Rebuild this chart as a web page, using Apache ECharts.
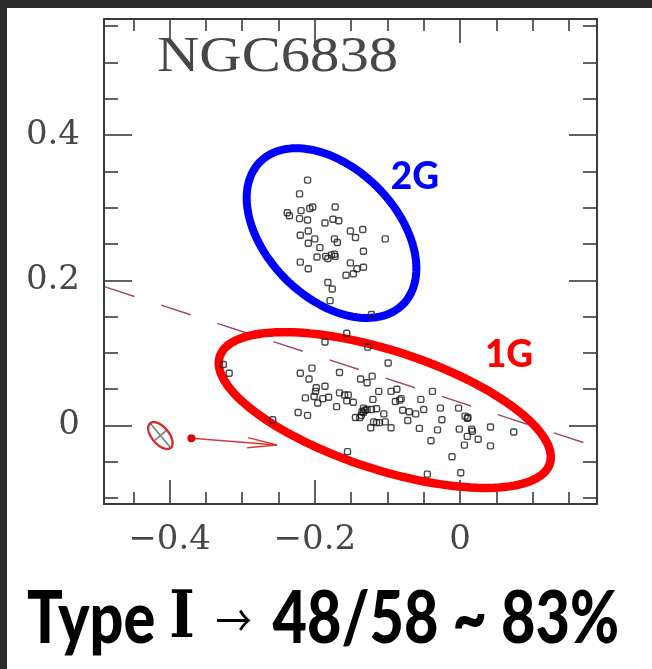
<!DOCTYPE html>
<html>
<head>
<meta charset="utf-8">
<script src="https://cdn.jsdelivr.net/npm/echarts@6.0.0/dist/echarts.min.js"></script>
<style>
html,body{margin:0;padding:0;background:#fff;}
#chart{width:652px;height:669px;}
</style>
</head>
<body>
<div id="chart"></div>
<script>
// ---- data ----
const xMajorTicks = [-0.4, -0.2, 0];
const xMinorTicks = [-0.45, -0.35, -0.3, -0.25, -0.15, -0.1, -0.05, 0.05, 0.1, 0.15];
const yMajorTicks = [0, 0.2, 0.4];
const yMinorTicks = [-0.1, -0.05, 0.05, 0.1, 0.15, 0.25, 0.3, 0.35, 0.45, 0.5, 0.55];

const group2G = [[-0.210,0.338],[-0.221,0.319],[-0.238,0.293],[-0.235,0.289],[-0.219,0.296],[-0.207,0.299],[-0.203,0.301],[-0.172,0.301],[-0.221,0.285],[-0.210,0.283],[-0.186,0.279],[-0.175,0.284],[-0.167,0.282],[-0.151,0.268],[-0.134,0.270],[-0.220,0.262],[-0.209,0.268],[-0.200,0.257],[-0.209,0.251],[-0.173,0.257],[-0.169,0.252],[-0.144,0.259],[-0.103,0.257],[-0.193,0.245],[-0.133,0.240],[-0.197,0.232],[-0.185,0.233],[-0.182,0.230],[-0.177,0.235],[-0.173,0.236],[-0.172,0.233],[-0.220,0.225],[-0.209,0.216],[-0.151,0.224],[-0.133,0.218],[-0.142,0.216],[-0.157,0.207],[-0.147,0.209],[-0.182,0.197],[-0.176,0.188],[-0.179,0.172],[-0.122,0.153]];

const group1G = [[-0.156,0.127],[-0.186,0.115],[-0.127,0.108],[-0.326,0.084],[-0.318,0.072],[-0.099,0.086],[-0.220,0.072],[-0.204,0.079],[-0.166,0.073],[-0.208,0.064],[-0.137,0.064],[-0.128,0.059],[-0.121,0.068],[-0.198,0.052],[-0.199,0.047],[-0.186,0.054],[-0.213,0.038],[-0.201,0.040],[-0.196,0.031],[-0.189,0.037],[-0.181,0.039],[-0.166,0.045],[-0.159,0.042],[-0.154,0.042],[-0.170,0.026],[-0.156,0.034],[-0.147,0.032],[-0.112,0.047],[-0.095,0.047],[-0.087,0.050],[-0.089,0.033],[-0.083,0.035],[-0.081,0.037],[-0.120,0.036],[-0.054,0.036],[-0.038,0.047],[-0.223,0.018],[-0.210,0.014],[-0.258,0.008],[-0.133,0.024],[-0.131,0.021],[-0.135,0.019],[-0.128,0.022],[-0.122,0.022],[-0.115,0.023],[-0.144,0.011],[-0.138,0.011],[-0.136,0.014],[-0.133,0.018],[-0.105,0.016],[-0.119,0.005],[-0.115,0.004],[-0.111,0.004],[-0.103,0.005],[-0.123,-0.003],[-0.095,-0.003],[-0.079,0.021],[-0.070,0.019],[-0.061,0.016],[-0.050,0.022],[-0.072,0.007],[-0.056,-0.004],[-0.027,0.024],[-0.025,0.008],[-0.031,-0.006],[-0.002,0.024],[0.007,0.013],[0.010,0.010],[0.011,0.011],[-0.001,-0.005],[0.016,-0.005],[0.017,-0.008],[0.010,-0.015],[-0.040,-0.021],[0.006,-0.027],[0.025,-0.019],[0.042,-0.002],[0.042,-0.028],[0.074,-0.009],[-0.011,-0.043],[-0.155,-0.036],[-0.045,-0.067],[0.001,-0.065]];

const dividerLine = [[-0.489,0.191],[0.172,-0.024]];
// ellipses: [centerX, centerY, semiMajor, semiMinor, angleDeg]
const ellipse2G = [-0.177, 0.265, 0.139, 0.0894, -45];
const ellipse1G = [-0.1036, 0.0213, 0.239, 0.0818, -18];
const errorEllipse = [-0.4127, -0.0138, 0.022, 0.0117, -50];
// arrow: [x0, y0, x1, y1]
const arrowVec = [-0.370, -0.0176, -0.252, -0.0268];
const groupNames = ['2G', '1G'];
const groupLabelPos = [[-0.062, 0.342], [0.0675, 0.097]];

const titleText = 'NGC6838';
const captionParts = ['Type ', '\u2160', ' ', '\u2192', ' 48/58 ~ 83%'];

// ---- layout ----
const X_MIN = -0.4904, X_MAX = 0.1887, Y_MIN = -0.1081, Y_MAX = 0.5599;
const FRAME = '#3a3a3a';
const labelFont = {fontFamily: 'DejaVu Serif', fontSize: 34, color: '#474747'};

function measure(text, font) {
  const c = document.createElement('canvas').getContext('2d');
  c.font = font;
  return c.measureText(text).width;
}
const titleFont = '50px "Liberation Serif"';
const titleScale = 241 / measure(titleText, titleFont);

const LATO = {fontFamily: 'Lato', fontWeight: 900, fontSize: 72};
const ARROW_PAD = 8;
const capStyles = [
  LATO,
  {fontFamily: 'DejaVu Serif', fontWeight: 'bold', fontSize: 66},
  LATO,
  {fontFamily: 'Noto Sans CJK SC', fontWeight: 'normal', fontSize: 44, padding: [0, ARROW_PAD]},
  LATO
];
function cssFont(s) { return s.fontWeight + ' ' + s.fontSize + 'px "' + s.fontFamily + '"'; }
let capW = 2 * ARROW_PAD;
captionParts.forEach(function (t, i) { capW += measure(t, cssFont(capStyles[i])); });
const capScale = 592 / capW;
const capRich = {};
let capText = '';
captionParts.forEach(function (t, i) {
  const k = 's' + i;
  capRich[k] = Object.assign({color: '#000', verticalAlign: 'middle'}, capStyles[i]);
  capText += '{' + k + '|' + t + '}';
});

function fmt(v) {
  if (Math.abs(v) < 1e-9) return '0';
  return (v < 0 ? '\u2212' : '') + Math.abs(v).toFixed(1);
}

function ellipsePoints(api, p) {
  const cx = p[0], cy = p[1], a = p[2], b = p[3], ang = p[4] * Math.PI / 180;
  const pts = [];
  for (let k = 0; k < 144; k++) {
    const t = 2 * Math.PI * k / 144;
    const dx = a * Math.cos(t) * Math.cos(ang) - b * Math.sin(t) * Math.sin(ang);
    const dy = a * Math.cos(t) * Math.sin(ang) + b * Math.sin(t) * Math.cos(ang);
    pts.push(api.coord([cx + dx, cy + dy]));
  }
  return pts;
}
function vals(api, n) { const r = []; for (let i = 0; i < n; i++) r.push(api.value(i)); return r; }

function ellipseSeries(name, params, color, width) {
  return {
    type: 'custom', name: name, xAxisIndex: 0, yAxisIndex: 0, z: 3, silent: true,
    data: [params],
    renderItem: function (p, api) {
      return {type: 'polygon', shape: {points: ellipsePoints(api, vals(api, 5))},
        style: {fill: 'none', stroke: color, lineWidth: width, lineJoin: 'round'}};
    }
  };
}

function axisX(pos, major) {
  return {
    type: 'value', position: pos, min: X_MIN, max: X_MAX,
    axisLine: {show: major, onZero: false, lineStyle: {color: FRAME, width: 2}},
    axisTick: {show: true, inside: true, length: major ? 24 : 12,
      customValues: major ? xMajorTicks : xMinorTicks, lineStyle: {color: FRAME, width: 1.6}},
    axisLabel: (major && pos === 'bottom') ? Object.assign({show: true, customValues: xMajorTicks, formatter: fmt, margin: 19}, labelFont) : {show: false},
    splitLine: {show: false}
  };
}
function axisY(pos, major) {
  return {
    type: 'value', position: pos, min: Y_MIN, max: Y_MAX,
    axisLine: {show: major, onZero: false, lineStyle: {color: FRAME, width: 2}},
    axisTick: {show: true, inside: true, length: major ? 28 : 14,
      customValues: major ? yMajorTicks : yMinorTicks, lineStyle: {color: FRAME, width: 1.6}},
    axisLabel: (major && pos === 'left') ? Object.assign({show: true, customValues: yMajorTicks, formatter: fmt, margin: 24}, labelFont) : {show: false},
    splitLine: {show: false}
  };
}

const chart = echarts.init(document.getElementById('chart'), null, {renderer: 'canvas'});
chart.setOption({
  animation: false,
  backgroundColor: '#ffffff',
  grid: {left: 104, right: 55, top: 19, bottom: 165, containLabel: false, outerBoundsMode: 'none'},
  xAxis: [axisX('bottom', true), axisX('bottom', false), axisX('top', true), axisX('top', false)],
  yAxis: [axisY('left', true), axisY('left', false), axisY('right', true), axisY('right', false)],
  graphic: [
    {type: 'rect', shape: {x: 0, y: 0, width: 652, height: 8}, style: {fill: '#2b2b2b'}, z: 100},
    {type: 'rect', shape: {x: 0, y: 0, width: 7, height: 669}, style: {fill: '#2b2b2b'}, z: 100},
    {type: 'text', x: 157, y: 58, scaleX: titleScale, z: 50,
      style: {text: titleText, font: titleFont, fill: '#474747', textAlign: 'left', textVerticalAlign: 'middle'}},
    {type: 'text', x: 27, y: 620, scaleX: capScale, z: 50,
      style: {text: capText, rich: capRich, fill: '#000000', textAlign: 'left', textVerticalAlign: 'middle'}}
  ],
  series: [
    {type: 'line', name: 'divider', xAxisIndex: 0, yAxisIndex: 0, data: dividerLine, showSymbol: false, symbol: 'none', silent: true, z: 1,
      lineStyle: {color: '#a3476e', width: 1.5, type: [31, 28]}},
    ellipseSeries('2G ellipse', ellipse2G, '#0000ff', 8),
    ellipseSeries('1G ellipse', ellipse1G, '#ff0000', 8.5),
    {type: 'custom', name: 'error', xAxisIndex: 0, yAxisIndex: 0, z: 3, silent: true, data: [errorEllipse],
      renderItem: function (p, api) {
        const v = vals(api, 5);
        const ang = v[4] * Math.PI / 180;
        const c1 = api.coord([v[0] - v[2] * Math.cos(ang), v[1] - v[2] * Math.sin(ang)]);
        const c2 = api.coord([v[0] + v[2] * Math.cos(ang), v[1] + v[2] * Math.sin(ang)]);
        const c3 = api.coord([v[0] + v[3] * Math.sin(ang), v[1] - v[3] * Math.cos(ang)]);
        const c4 = api.coord([v[0] - v[3] * Math.sin(ang), v[1] + v[3] * Math.cos(ang)]);
        return {type: 'group', children: [
          {type: 'line', shape: {x1: c1[0], y1: c1[1], x2: c2[0], y2: c2[1]}, style: {stroke: '#6e8080', lineWidth: 1.6}},
          {type: 'line', shape: {x1: c3[0], y1: c3[1], x2: c4[0], y2: c4[1]}, style: {stroke: '#6e8080', lineWidth: 1.6}},
          {type: 'polygon', shape: {points: ellipsePoints(api, v)}, style: {fill: 'none', stroke: '#d42a2a', lineWidth: 2.4}}
        ]};
      }},
    {type: 'custom', name: 'vector', xAxisIndex: 0, yAxisIndex: 0, z: 3, silent: true, data: [arrowVec],
      renderItem: function (p, api) {
        const v = vals(api, 4);
        const p0 = api.coord([v[0], v[1]]), p1 = api.coord([v[2], v[3]]);
        const a = Math.atan2(p1[1] - p0[1], p1[0] - p0[0]);
        const L = 30, s = 0.17;
        const b1 = [p1[0] - L * Math.cos(a - s), p1[1] - L * Math.sin(a - s)];
        const b2 = [p1[0] - L * Math.cos(a + s), p1[1] - L * Math.sin(a + s)];
        const st = {stroke: '#e03535', lineWidth: 1.4};
        return {type: 'group', children: [
          {type: 'line', shape: {x1: p0[0], y1: p0[1], x2: p1[0], y2: p1[1]}, style: st},
          {type: 'line', shape: {x1: b1[0], y1: b1[1], x2: p1[0], y2: p1[1]}, style: st},
          {type: 'line', shape: {x1: b2[0], y1: b2[1], x2: p1[0], y2: p1[1]}, style: st},
          {type: 'circle', shape: {cx: p0[0], cy: p0[1], r: 4}, style: {fill: '#e30000'}}
        ]};
      }},
    {type: 'scatter', name: '2G', xAxisIndex: 0, yAxisIndex: 0, data: group2G, symbol: 'roundRect', symbolSize: 6, z: 5,
      itemStyle: {color: 'rgba(255,255,255,0)', borderColor: '#1a1a1a', borderWidth: 1.4}},
    {type: 'scatter', name: '1G', xAxisIndex: 0, yAxisIndex: 0, data: group1G, symbol: 'roundRect', symbolSize: 6, z: 5,
      itemStyle: {color: 'rgba(255,255,255,0)', borderColor: '#1a1a1a', borderWidth: 1.4}},
    {type: 'custom', name: 'group labels', xAxisIndex: 0, yAxisIndex: 0, z: 6, silent: true, data: groupLabelPos,
      renderItem: function (p, api) {
        const c = api.coord([api.value(0), api.value(1)]);
        const colors = ['#0000ff', '#ff0000'];
        return {type: 'text', x: c[0], y: c[1],
          style: {text: groupNames[p.dataIndex], font: '900 37px Lato', fill: colors[p.dataIndex],
            textAlign: 'center', textVerticalAlign: 'middle', align: 'center', verticalAlign: 'middle'}};
      }}
  ]
});
</script>
</body>
</html>
